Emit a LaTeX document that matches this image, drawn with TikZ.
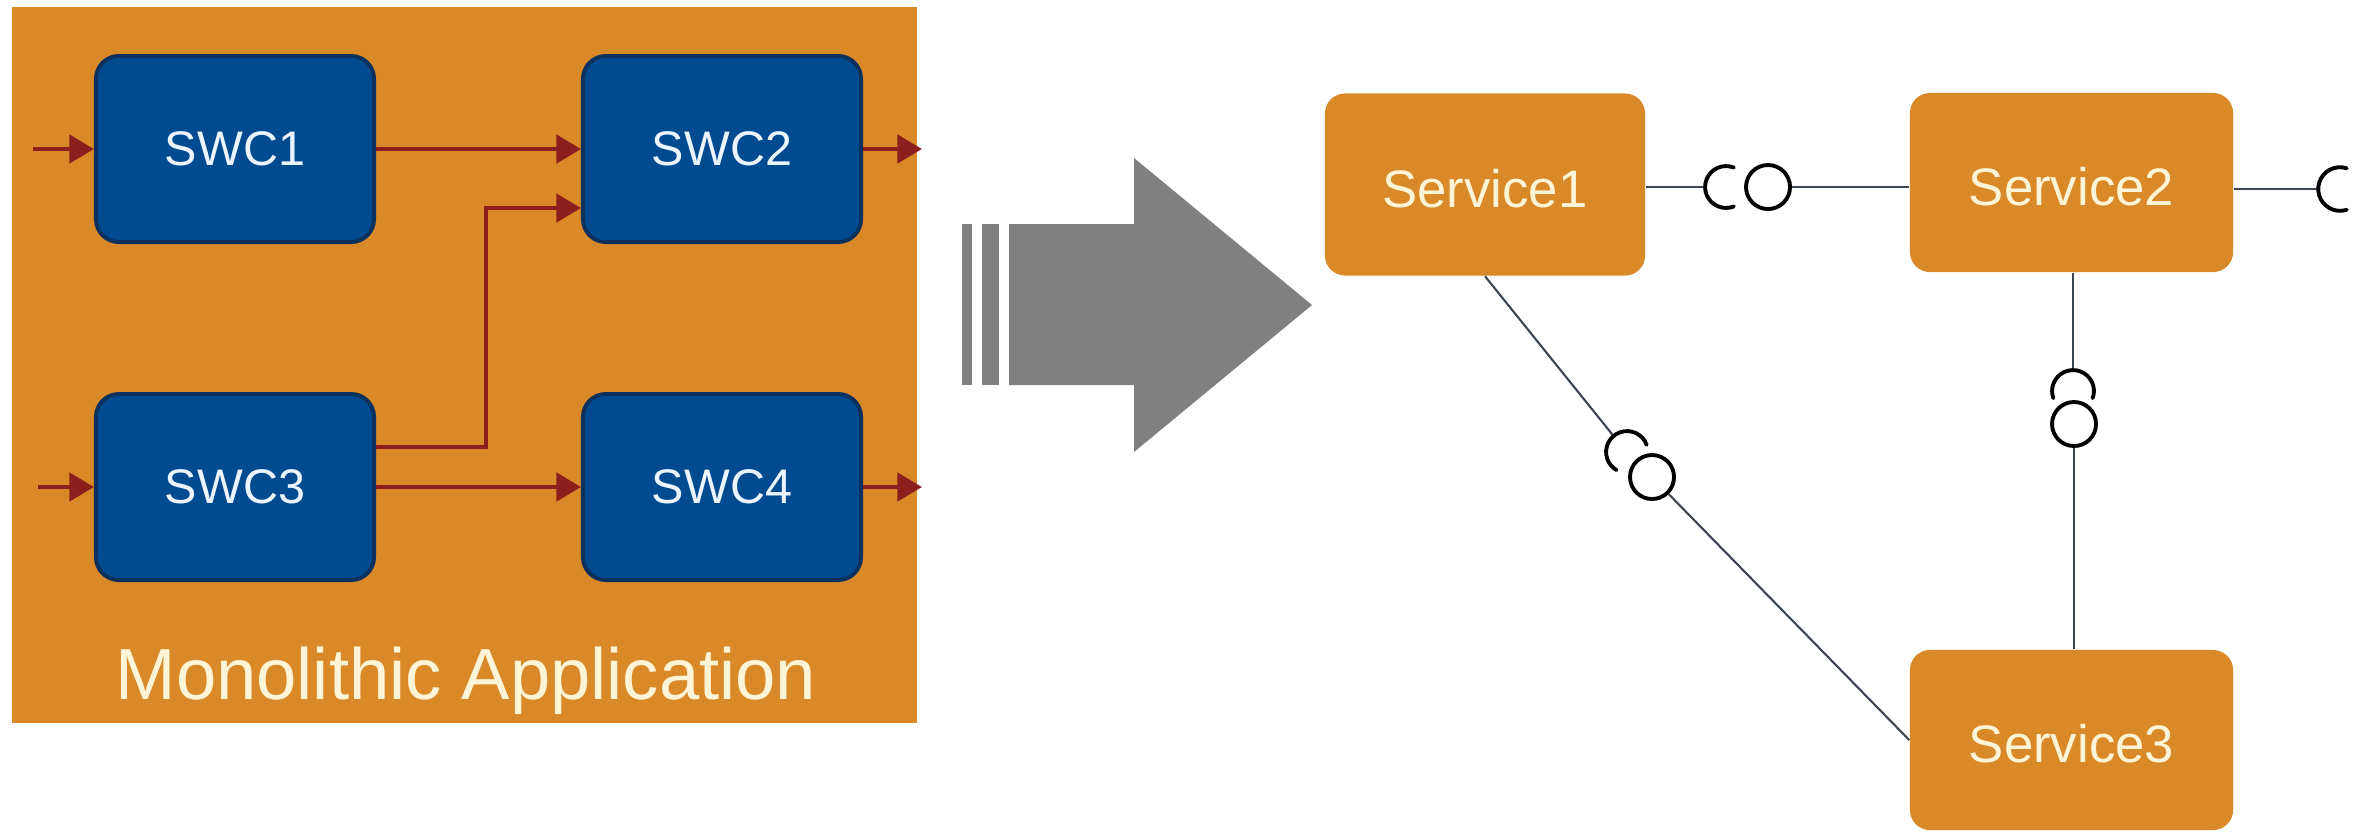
\documentclass[tikz,border=0pt]{standalone}
\usepackage{fontspec}
\setmainfont{Liberation Sans}
\usetikzlibrary{arrows.meta}

\definecolor{panel}{RGB}{217,137,40}
\definecolor{swcfill}{RGB}{0,74,143}
\definecolor{swcedge}{RGB}{13,48,92}
\definecolor{swctext}{RGB}{236,244,255}
\definecolor{flowred}{RGB}{140,30,30}
\definecolor{bigarrow}{RGB}{128,128,128}
\definecolor{svcfill}{RGB}{217,137,40}
\definecolor{svctext}{RGB}{255,244,214}
\definecolor{wiregray}{RGB}{60,70,82}

\tikzset{
  swc/.style={draw=swcedge, line width=1.1pt, fill=swcfill, rounded corners=6.5pt,
    minimum width=2.78cm, minimum height=1.86cm, inner sep=0pt, text=swctext,
    font=\fontsize{13.8}{16}\selectfont},
  svc/.style={fill=svcfill, rounded corners=5.7pt, inner sep=0pt,
    minimum width=3.2cm, minimum height=1.82cm, text=svctext, text height=13pt,
    font=\fontsize{15}{18}\selectfont},
  flow/.style={draw=flowred, line width=1.2pt, -{Triangle[length=7pt,width=8pt]}},
  wire/.style={draw=wiregray, line width=0.6pt},
  ball/.style={circle, draw=black, line width=1.1pt, minimum size=0.44cm, inner sep=0pt},
  sock/.style={draw=black, line width=1.1pt, line cap=round},
}

\begin{document}
\begin{tikzpicture}[x=0.01cm, y=0.01cm]
\useasboundingbox (0,0) rectangle (2364,-832);

% ---------- monolithic application ----------
\fill[panel] (12,-7) rectangle (917,-723);

\node[swc] (swc1) at (235,-149) {SWC1};
\node[swc] (swc2) at (722,-149) {SWC2};
\node[swc] (swc3) at (235,-487) {SWC3};
\node[swc] (swc4) at (722,-487) {SWC4};

\node[anchor=base, text=svctext, font=\fontsize{20.6}{24}\selectfont, inner sep=0pt]
  (mono) at (466,-699) {Monolithic Application};

\coordinate (in1) at (33,-149);
\coordinate (in3) at (38,-487);
\coordinate (out2) at (922,-149);
\coordinate (out4) at (922,-487);

\draw[flow] (in1) -- (swc1.west);
\draw[flow] (swc1.east) -- (swc2.west);
\draw[flow] (swc2.east) -- (out2);
\draw[flow] (in3) -- (swc3.west);
\draw[flow] (swc3.east) -- (swc4.west);
\draw[flow] (swc4.east) -- (out4);
\draw[flow] ([yshift=0.4cm]swc3.east) -- ++(1.1cm,0) |- ([yshift=-0.59cm]swc2.west);

% ---------- transition arrow ----------
\fill[bigarrow] (962,-224) rectangle (972,-385);
\fill[bigarrow] (982,-224) rectangle (999,-385);
\fill[bigarrow] (1009,-224) -- (1134,-224) -- (1134,-158) -- (1312,-305)
  -- (1134,-452) -- (1134,-385) -- (1009,-385) -- cycle;

% ---------- services ----------
\node[svc] (s1) at (1485,-184.5) {Service1};
\node[svc, minimum width=3.23cm, minimum height=1.79cm] (s2) at (2071.5,-182.5) {Service2};
\node[svc, minimum width=3.23cm, minimum height=1.80cm] (s3) at (2071.5,-740) {Service3};

% socket centres and the points where the wires meet them
\coordinate (k1) at (1726,-187);
\coordinate (k2) at (2340,-189);
\coordinate (k3) at (2073,-391);
\coordinate (k4) at (1627,-452);
\coordinate (k1w) at ([shift={(180:5.95pt)}]k1);
\coordinate (k2w) at ([shift={(180:6.2pt)}]k2);
\coordinate (k3w) at ([shift={(90:5.95pt)}]k3);
\coordinate (k4w) at ([shift={(130:5.95pt)}]k4);

% balls
\node[ball] (b1) at (1768,-187) {};
\node[ball] (b3) at (2074,-424) {};
\node[ball] (b4) at (1652,-477) {};

% wires
\draw[wire] (s1.east |- k1w) -- (k1w);
\draw[wire] (b1.east) -- (b1.east -| s2.west);
\draw[wire] (s2.east |- k2w) -- (k2w);
\draw[wire] (k3w |- s2.south) -- (k3w);
\draw[wire] (b3.south) -- (b3.south |- s3.north);
\draw[wire] (s1.south) -- (k4w);
\draw[wire] (b4) -- (s3.west);

% sockets
\draw[sock] ([shift={(68:5.95pt)}]k1) arc[start angle=68, end angle=292, radius=5.95pt];
\draw[sock] ([shift={(72:6.2pt)}]k2) arc[start angle=72, end angle=288, radius=6.2pt];
\draw[sock] ([shift={(-20:5.95pt)}]k3) arc[start angle=-20, end angle=200, radius=5.95pt];
\draw[sock] ([shift={(20:5.95pt)}]k4) arc[start angle=20, end angle=240, radius=5.95pt];
\end{tikzpicture}
\end{document}
